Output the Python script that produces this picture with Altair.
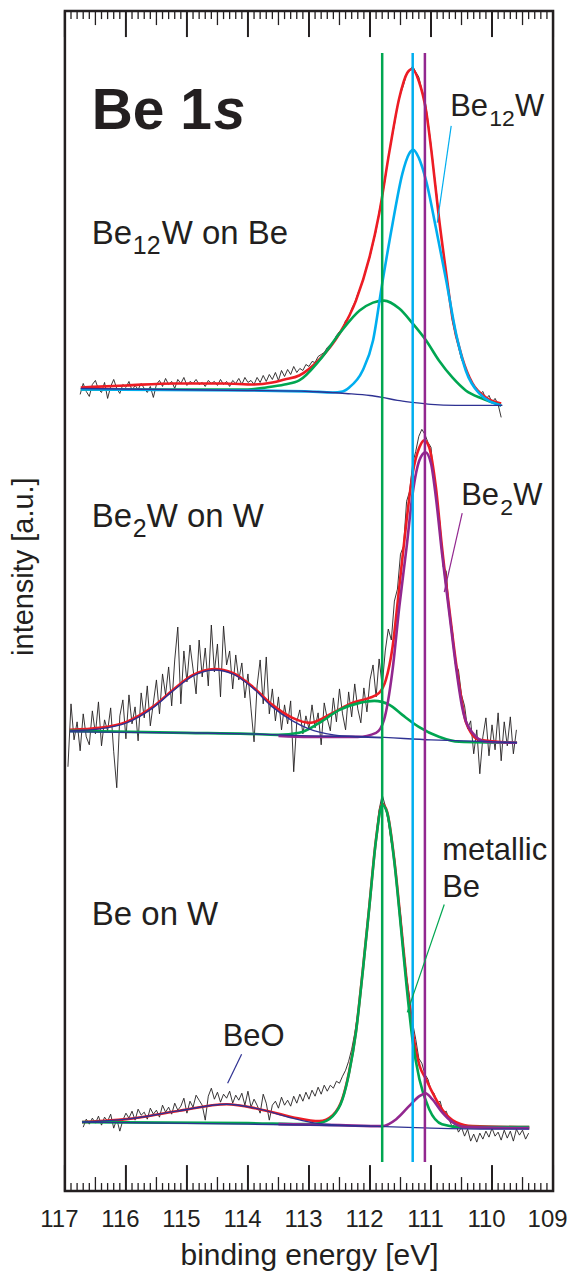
import altair as alt
import numpy as np
import pandas as pd

FONT = "Liberation Sans"
INK = "#231F20"
RED, GREEN, CYAN, PURPLE, NAVY = "#ED1C24", "#00A651", "#00AEEF", "#92278F", "#2E3192"

# ---------------- axes ----------------
x_domain = [117, 109]
y_domain = [0, 1182]
tick_labels = [117, 116, 115, 114, 113, 112, 111, 110, 109]
minor_step = 0.1

# ---------------- measured spectra (black), 0.05 eV grid ----------------
raw_step = 0.05
top_raw_start = 116.75
top_raw = [798, 809, 801, 796, 808, 812, 803, 800, 810, 794,
           806, 813, 804, 799, 808, 805, 811, 802, 807, 803,
           809, 804, 800, 806, 795, 808, 812, 806, 814, 808,
           811, 804, 813, 809, 815, 807, 811, 809, 813, 808,
           810, 806, 812, 809, 811, 807, 813, 808, 811, 806,
           812, 809, 814, 808, 815, 810, 812, 808, 815, 810,
           817, 811, 818, 813, 820, 812, 822, 816, 823, 818,
           826, 820, 824, 822, 828, 826, 831, 830, 836, 838,
           840, 845, 848, 851, 857, 861, 864, 872, 875, 884,
           890, 899, 906, 916, 927, 936, 949, 962, 981, 996,
           1014, 1036, 1052, 1068, 1087, 1099, 1108, 1119, 1122, 1127,
           1121, 1116, 1103, 1094, 1072, 1048, 1020, 995, 963, 942,
           918, 899, 872, 858, 846, 833, 827, 818, 813, 806,
           804, 798, 801, 793, 797, 790, 794, 788, 775]

mid_raw_start = 116.95
mid_raw = [425, 488, 452, 470, 441, 478, 455, 447, 481, 458,
           490, 446, 472, 461, 484, 440, 404, 476, 492, 453,
           497, 468, 485, 451, 499, 474, 506, 466, 489, 512,
           478, 518, 497, 525, 486, 532, 565, 488, 541, 510,
           547, 523, 498, 552, 515, 544, 506, 567, 520, 548,
           495, 566, 527, 541, 503, 537, 512, 529, 494, 518,
           483, 450, 506, 532, 488, 535, 478, 503, 471, 495,
           462, 487, 468, 491, 420, 470, 482, 458, 476, 463,
           487, 464, 479, 447, 489, 473, 461, 494, 470, 503,
           478, 462, 500, 475, 508, 483, 469, 504, 480, 512,
           527, 495, 533, 506, 541, 563, 552, 591, 603, 638,
           646, 691, 701, 729, 741, 756, 763, 758, 750, 745,
           712, 690, 668, 625, 621, 578, 562, 528, 522, 497,
           486, 463, 471, 438, 462, 418, 455, 474, 436, 467,
           442, 479, 431, 470, 446, 475, 438, 462]

bot_raw_start = 116.70
bot_raw = [64, 72, 67, 73, 68, 75, 66, 74, 70, 77,
           63, 72, 60, 71, 78, 73, 80, 71, 82, 76,
           79, 72, 83, 77, 81, 74, 86, 79, 84, 77,
           88, 81, 85, 93, 78, 90, 84, 96, 91, 86,
           71, 95, 103, 92, 99, 89, 97, 93, 100, 88,
           96, 91, 98, 86, 100, 84, 92, 86, 78, 97,
           88, 71, 86, 90, 83, 94, 86, 91, 85, 95,
           88, 97, 90, 99, 92, 101, 95, 104, 97, 106,
           100, 106, 103, 110, 108, 115, 121, 130, 142, 158,
           178, 202, 229, 263, 290, 325, 355, 382, 397, 386,
           370, 349, 335, 300, 278, 244, 215, 194, 168, 152,
           133, 128, 117, 112, 101, 98, 88, 90, 78, 80,
           71, 64, 68, 59, 64, 55, 62, 50, 57, 49,
           58, 52, 60, 54, 63, 55, 59, 51, 61, 53,
           60, 50, 62, 56, 61, 52, 58]

# ---------------- fitted curves (E [eV], intensity) ----------------
top_background = [(116.74, 804), (114.0, 802), (113.0, 801), (112.4, 799), (112.0, 797), (111.8, 795),
                  (111.55, 792), (111.3, 790), (111.0, 788), (110.6, 787), (109.83, 787)]
top_be12w = [(116.74, 803), (114.0, 802), (113.0, 801), (112.61, 800), (112.45, 801), (112.34, 805),
             (112.12, 822), (111.95, 852), (111.8, 909), (111.63, 969), (111.47, 1019), (111.36, 1039),
             (111.29, 1043), (111.2, 1035), (111.08, 1012), (110.92, 965), (110.75, 912), (110.59, 859),
             (110.43, 822), (110.21, 799), (109.85, 787)]
top_metal = [(116.74, 803), (115.0, 803), (114.0, 803), (113.7, 805), (113.4, 808), (113.16, 812),
             (112.83, 832), (112.5, 859), (112.17, 882), (111.95, 890), (111.77, 892), (111.52, 884),
             (111.3, 869), (111.08, 852), (110.87, 832), (110.65, 815), (110.43, 802), (110.17, 794),
             (109.85, 787)]
top_sum = [(116.74, 805), (116.0, 807), (115.2, 809), (114.4, 809), (113.9, 808), (113.6, 810),
           (113.4, 813), (113.16, 817), (112.83, 833), (112.5, 859), (112.23, 892), (112.01, 935),
           (111.85, 979), (111.68, 1042), (111.52, 1095), (111.39, 1120), (111.31, 1124), (111.2, 1112),
           (111.08, 1082), (110.98, 1035), (110.87, 975), (110.75, 919), (110.65, 875), (110.49, 835),
           (110.32, 809), (110.1, 795), (109.85, 789)]

mid_background = [(116.92, 460), (115.0, 459), (114.0, 458), (113.0, 456), (112.0, 455), (111.0, 452),
                  (110.0, 450), (109.59, 449)]
mid_oxide = [(116.92, 461), (116.43, 463), (115.99, 469), (115.56, 484), (115.23, 501), (114.9, 516),
             (114.55, 522), (114.25, 518), (113.92, 504), (113.6, 485), (113.27, 471), (113.0, 463),
             (112.6, 457), (112.2, 455), (111.8, 454)]
mid_metal = [(116.92, 461), (115.0, 459), (114.0, 458), (113.5, 457), (113.16, 459), (112.83, 469),
             (112.5, 482), (112.17, 489), (111.93, 491), (111.68, 487), (111.47, 477), (111.2, 465),
             (110.87, 455), (110.54, 450), (109.59, 449)]
mid_be2w = [(113.5, 456), (113.0, 455), (112.2, 455), (111.9, 459), (111.77, 472), (111.63, 522),
            (111.52, 585), (111.4, 645), (111.3, 699), (111.19, 732), (111.09, 740), (111.0, 729),
            (110.92, 695), (110.82, 639), (110.7, 579), (110.59, 525), (110.49, 485), (110.32, 459),
            (110.1, 450), (109.59, 449)]
mid_sum = [(116.92, 462), (116.43, 464), (115.99, 470), (115.56, 485), (115.23, 502), (114.9, 517),
           (114.55, 523), (114.25, 519), (113.92, 505), (113.6, 487), (113.27, 474), (112.99, 469),
           (112.61, 479), (112.29, 489), (112.01, 494), (111.85, 499), (111.74, 512), (111.63, 545),
           (111.52, 605), (111.4, 672), (111.3, 719), (111.19, 745), (111.11, 752), (111.03, 745),
           (110.92, 705), (110.82, 645), (110.7, 583), (110.59, 529), (110.49, 489), (110.43, 470),
           (110.21, 452), (109.59, 449)]

bot_background = [(116.72, 69), (114.0, 67), (113.0, 66), (112.0, 65), (111.0, 63), (110.0, 62), (109.39, 62)]
bot_oxide = [(116.72, 69), (115.99, 72), (115.17, 80), (114.35, 87), (113.81, 82), (113.27, 73),
             (112.9, 68), (112.5, 66), (112.0, 65)]
bot_metal = [(116.72, 69), (114.0, 68), (113.0, 67), (112.83, 68), (112.61, 75), (112.45, 92),
             (112.34, 119), (112.23, 159), (112.12, 219), (112.01, 285), (111.9, 352), (111.8, 387),
             (111.72, 379), (111.6, 329), (111.49, 262), (111.4, 205), (111.3, 150), (111.19, 112),
             (111.03, 82), (110.82, 67), (110.5, 64), (109.39, 64)]
bot_be2w = [(113.5, 67), (112.5, 66), (111.8, 65), (111.57, 72), (111.36, 85), (111.19, 95), (111.09, 98),
            (110.98, 92), (110.82, 79), (110.65, 69), (110.43, 64), (109.39, 63)]
bot_sum = [(116.72, 69), (115.99, 72), (115.17, 80), (114.35, 87), (113.81, 82), (113.27, 74), (112.83, 70),
           (112.61, 76), (112.45, 93), (112.34, 120), (112.23, 160), (112.12, 220), (112.01, 286),
           (111.9, 353), (111.8, 388), (111.72, 380), (111.6, 331), (111.49, 266), (111.4, 211), (111.3, 160),
           (111.19, 126), (111.08, 112), (110.98, 99), (110.82, 82), (110.59, 69), (110.32, 65), (109.39, 64)]

# reference binding energies (vertical lines)
ref_energy = [111.8, 111.3, 111.1]
ref_color = [GREEN, CYAN, PURPLE]
ref_span = [29, 1140]

# annotation anchors (E, intensity)
title_pieces = [("Be 1", 116.56, 1064), ("s", 114.56, 1064)]
left_main = [("Be", 116.558, 949), ("W on Be", 115.413, 949),
             ("Be", 116.558, 665), ("W on W", 115.658, 665),
             ("Be on W", 116.558, 267)]
left_sub = [("12", 115.8875, 949), ("2", 115.8875, 665)]
right_main = [("Be", 110.685, 1077), ("W", 109.622, 1077),
              ("Be", 110.505, 687), ("W", 109.654, 687),
              ("metallic", 110.816, 332), ("Be", 110.816, 295),
              ("BeO", 114.415, 145)]
right_sub = [("12", 110.047, 1077), ("2", 109.867, 687)]
leaders = [(110.669, 1067, 110.898, 970, CYAN), (110.489, 679, 110.783, 600, PURPLE),
           (110.783, 287, 111.389, 179, GREEN), (114.104, 137, 114.333, 108, NAVY)]

# ---------------- build tables ----------------
def raw_frame(start, vals, spec):
    e = np.round(start - raw_step * np.arange(len(vals)), 2)
    return pd.DataFrame({"E": e, "I": vals, "spec": spec})

def curve_frame(*named):
    parts = []
    for spec, pairs in named:
        parts.append(pd.DataFrame({"E": [p[0] for p in pairs], "I": [p[1] for p in pairs], "spec": spec}))
    return pd.concat(parts, ignore_index=True)

raw_df = pd.concat([raw_frame(top_raw_start, top_raw, "top"),
                    raw_frame(mid_raw_start, mid_raw, "mid"),
                    raw_frame(bot_raw_start, bot_raw, "bot")], ignore_index=True)
red_df = curve_frame(("top", top_sum), ("mid", mid_sum), ("bot", bot_sum))
green_df = curve_frame(("top", top_metal), ("mid", mid_metal), ("bot", bot_metal))
cyan_df = curve_frame(("top", top_be12w))
purple_df = curve_frame(("mid", mid_be2w), ("bot", bot_be2w))
navy_df = curve_frame(("top", top_background), ("mid", mid_background), ("bot", bot_background),
                      ("mid_ox", mid_oxide), ("bot_ox", bot_oxide))

n_minor = int(round((x_domain[0] - x_domain[1]) / minor_step))
tick_rows = []
for k in range(n_minor + 1):
    e = round(x_domain[0] - k * minor_step, 1)
    length = 26 if k % 10 == 0 else (14 if k % 5 == 0 else 8)
    w = 2.0 if k % 10 == 0 else 1.3
    tick_rows.append({"E": e, "I0": y_domain[0], "I1": y_domain[0] + length, "w": w})
    tick_rows.append({"E": e, "I0": y_domain[1] - length, "I1": y_domain[1], "w": w})
tick_df = pd.DataFrame(tick_rows)

ref_df = pd.DataFrame({"E": ref_energy, "I0": ref_span[0], "I1": ref_span[1], "c": ref_color})
lead_df = pd.DataFrame(leaders, columns=["E", "I", "E2", "I2", "c"])

# ---------------- scales & axes ----------------
xs = alt.Scale(domain=x_domain, nice=False, zero=False)
ys = alt.Scale(domain=y_domain, nice=False, zero=False)
xaxis = alt.Axis(title="binding energy [eV]", values=tick_labels, format="d", grid=False, domain=False,
                 ticks=False, tickSize=0, labelFont=FONT, labelFontSize=24, labelColor=INK,
                 labelBaseline="alphabetic", labelPadding=36, labelOffset=-6, labelFlush=False,
                 labelOverlap=False, titleFont=FONT, titleFontSize=30, titleFontWeight="normal",
                 titleColor=INK, titleBaseline="alphabetic", titleY=74)
yaxis = alt.Axis(title="intensity [a.u.]", labels=False, ticks=False, domain=False, grid=False,
                 titleFont=FONT, titleFontSize=29, titleFontWeight="normal", titleColor=INK,
                 titleAngle=-90, titleAlign="center", titleBaseline="alphabetic", titleX=-32, titleY=556)

def X(field="E:Q"):
    return alt.X(field, scale=xs, axis=xaxis)

def Y(field="I:Q"):
    return alt.Y(field, scale=ys, axis=yaxis)

def curves(df, color, width):
    return alt.Chart(df).mark_line(color=color, strokeWidth=width, interpolate="monotone").encode(
        x=X(), y=Y(), detail="spec:N", order=alt.Order("E:Q", sort="descending"))

ticks = alt.Chart(tick_df).mark_rule(color=INK).encode(
    x=X(), y=Y("I0:Q"), y2="I1:Q", strokeWidth=alt.StrokeWidth("w:Q", scale=None))

raw = alt.Chart(raw_df).mark_line(color=INK, strokeWidth=0.9).encode(
    x=X(), y=Y(), detail="spec:N", order=alt.Order("E:Q", sort="descending"))

refs = alt.Chart(ref_df).mark_rule(strokeWidth=2.5).encode(
    x=X(), y=Y("I0:Q"), y2="I1:Q", color=alt.Color("c:N", scale=None))

leads = alt.Chart(lead_df).mark_rule(strokeWidth=1.2).encode(
    x=X(), y=Y(), x2="E2:Q", y2="I2:Q", color=alt.Color("c:N", scale=None))

def texts(items, size, dy=0, weight="normal", style="normal"):
    df = pd.DataFrame(items, columns=["text", "E", "I"])
    return alt.Chart(df).mark_text(align="left", baseline="alphabetic", font=FONT, fontSize=size,
                                   fontWeight=weight, fontStyle=style, color=INK, dy=dy).encode(
        x=X(), y=Y(), text="text:N")

title_a = texts([title_pieces[0]], 57, weight="bold")
title_b = texts([title_pieces[1]], 57, weight="bold", style="italic")

layers = [ticks, raw,
          curves(red_df, RED, 2.6), curves(green_df, GREEN, 2.6), curves(cyan_df, CYAN, 2.6),
          curves(purple_df, PURPLE, 2.6), curves(navy_df, NAVY, 1.4),
          refs, leads,
          title_a, title_b,
          texts(left_main, 33), texts(left_sub, 25, dy=10),
          texts(right_main, 31), texts(right_sub, 23, dy=10)]

chart = alt.layer(*layers).properties(
    width=489, height=1182,
    padding={"left": 57, "top": 2, "right": 22, "bottom": 82},
    autosize=alt.AutoSizeParams(type="none"),
).configure_view(stroke=INK, strokeWidth=2.5)

chart.save("out.html", embed_options={"renderer": "svg", "actions": False})
